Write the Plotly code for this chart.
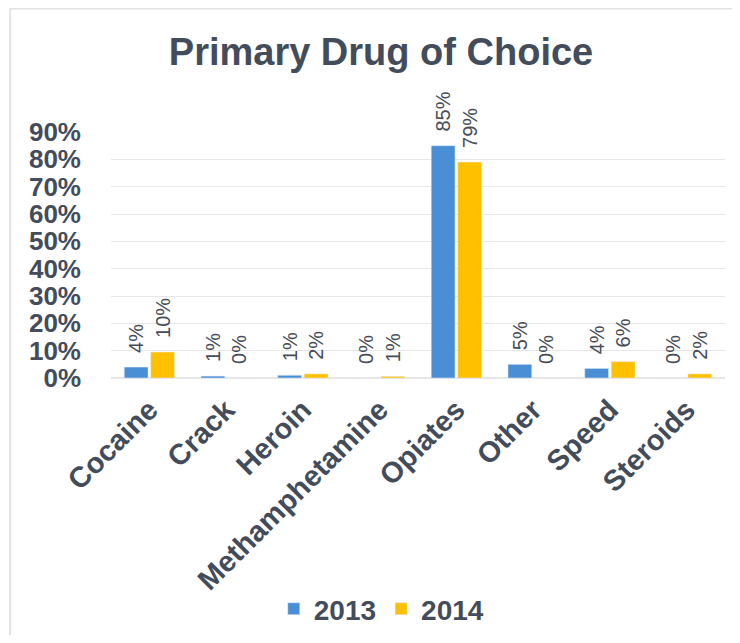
import plotly.graph_objects as go

categories = ["Cocaine", "Crack", "Heroin", "Methamphetamine", "Opiates", "Other", "Speed", "Steroids"]
values_2013 = [0.04, 0.007, 0.01, 0.0, 0.85, 0.05, 0.035, 0.0]
values_2014 = [0.095, 0.0, 0.015, 0.006, 0.79, 0.0, 0.06, 0.015]
labels_2013 = ["4%", "1%", "1%", "0%", "85%", "5%", "4%", "0%"]
labels_2014 = ["10%", "0%", "2%", "1%", "79%", "0%", "6%", "2%"]
y_ticks = [0, 0.1, 0.2, 0.3, 0.4, 0.5, 0.6, 0.7, 0.8, 0.9]
y_tick_labels = ["0%", "10%", "20%", "30%", "40%", "50%", "60%", "70%", "80%", "90%"]

FONT = "Liberation Sans, Arial, sans-serif"
DARK = "#434c5b"
LABEL = "#464c58"
PAD = "\u00a0\u00a0"

fig = go.Figure()
for name, vals, labs, col in [("2013", values_2013, labels_2013, "#4a8fd6"),
                              ("2014", values_2014, labels_2014, "#ffc000")]:
    fig.add_trace(go.Bar(
        name=name, x=categories, y=vals, text=[PAD + t for t in labs],
        textposition="outside", textangle=-90, cliponaxis=False, constraintext="none",
        textfont=dict(family=FONT, size=20, color=LABEL),
        marker=dict(color=col),
    ))

# page body has an 8px margin, so figure coords = reference coords - 8
W, H = 732, 627
L, T = 103, 124
PR, PB = 717.5, 370
pw, ph = PR - L, PB - T

def px(x):
    return (x - L) / pw

def py(y):
    return (PB - y) / ph

fig.update_layout(
    width=W, height=H,
    margin=dict(l=L, r=W - PR, t=T, b=H - PB, autoexpand=False),
    paper_bgcolor="white", plot_bgcolor="white",
    barmode="group", bargap=0.31, bargroupgap=0.1,
    title=dict(text="Primary Drug of Choice", x=373 / W, xanchor="center",
               y=1 - 44 / H, yanchor="middle",
               font=dict(family=FONT, size=38, color=DARK, weight="bold")),
    xaxis=dict(tickangle=-45, tickfont=dict(family=FONT, size=29, color=DARK, weight="bold"),
               showline=False, ticks="", automargin=False, ticklabelstandoff=8),
    yaxis=dict(range=[0, 0.9], tickvals=y_ticks, ticktext=y_tick_labels,
               tickfont=dict(family=FONT, size=26, color=DARK, weight="bold"),
               showgrid=True, gridcolor="#e6e6e6", zeroline=True, zerolinecolor="#e6e6e6",
               ticklabelstandoff=29, automargin=False),
    legend=dict(orientation="h", x=px(374), xanchor="center", y=py(601), yanchor="middle",
                font=dict(family=FONT, size=28, color=DARK, weight="bold"),
                itemwidth=30, tracegroupgap=0),
    showlegend=True,
    shapes=[dict(type="rect", xref="paper", yref="paper",
                 x0=px(2), x1=px(760), y0=py(660), y1=py(0.5),
                 line=dict(color="#e3e3e3", width=2), layer="below")],
)

fig.write_html("out.html")
